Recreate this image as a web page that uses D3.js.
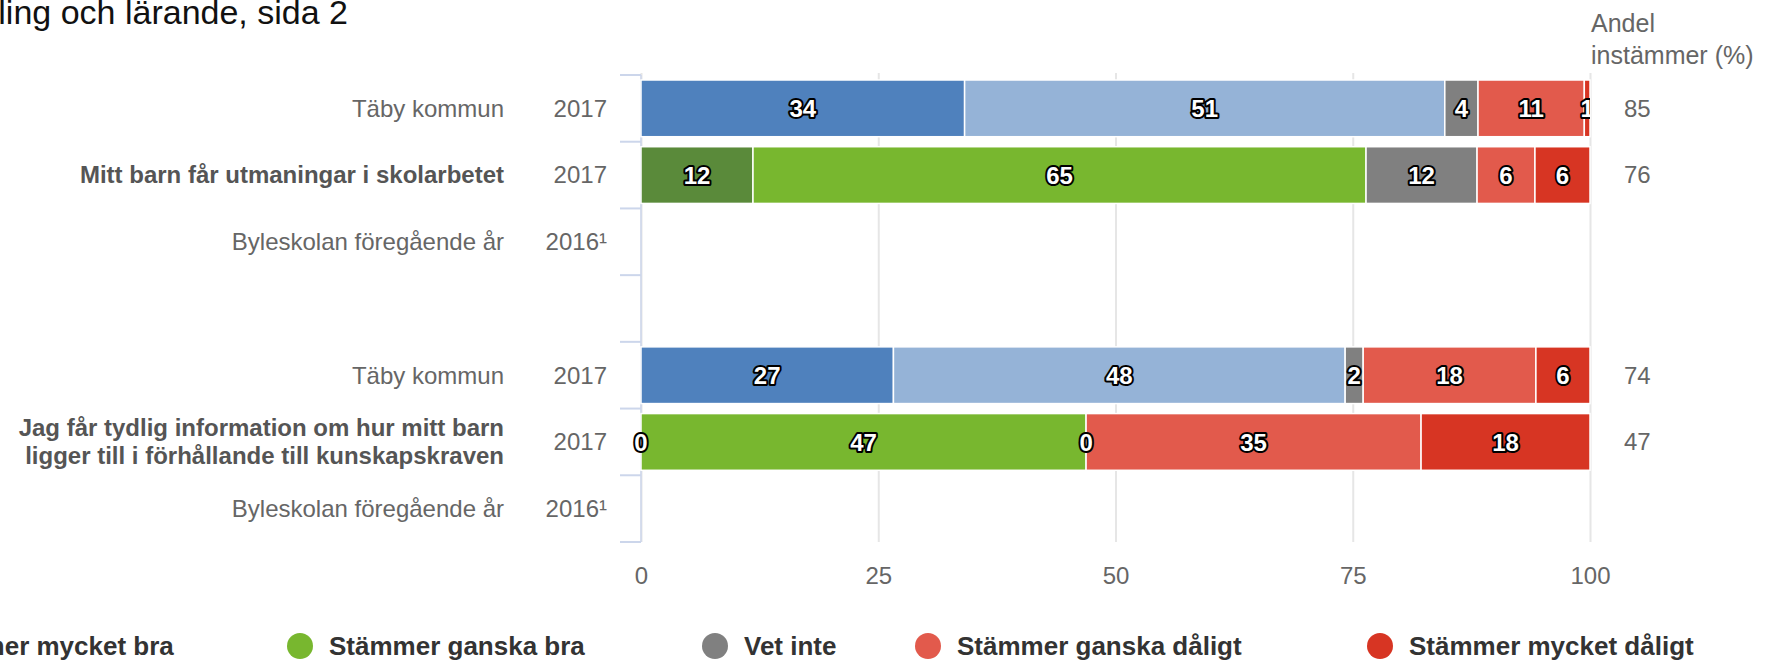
<!DOCTYPE html>
<html>
<head>
<meta charset="utf-8">
<script src="https://cdn.jsdelivr.net/npm/d3@7"></script>
<style>
  body { margin: 0; background: #fff; }
  svg { display: block; font-family: "Liberation Sans", Arial, Helvetica, sans-serif; }
</style>
</head>
<body>
<svg id="chart" width="1777" height="665"></svg>
<script>
// rows top to bottom, "" is the spacer between the two questions
const categories = [
  "Täby kommun",
  "Mitt barn får utmaningar i skolarbetet",
  "Byleskolan föregående år",
  "",
  "Täby kommun",
  "Jag får tydlig information om hur mitt barn ligger till i förhållande till kunskapskraven",
  "Byleskolan föregående år"
];
const years = ["2017", "2017", "2016¹", "", "2017", "2017", "2016¹"];
const questionRows = [1, 5];
const tabyRows = [0, 4];

const seriesNames = ["Stämmer mycket bra", "Stämmer ganska bra", "Vet inte", "Stämmer ganska dåligt", "Stämmer mycket dåligt"];

// percent per row (null = no data)
const mycketBra    = [34.1, 11.8, null, null, 26.6, 0,    null];
const ganskaBra    = [50.6, 64.6, null, null, 47.6, 46.9, null];
const vetInte      = [3.5,  11.7, null, null, 1.9,  0,    null];
const ganskaDaligt = [11.2, 6.1,  null, null, 18.2, 35.3, null];
const mycketDaligt = [0.6,  5.8,  null, null, 5.7,  17.8, null];

const andel = [85, 76, null, null, 74, 47, null];
const xTicks = [0, 25, 50, 75, 100];

const tabyColors  = ["#4f81bd", "#95b3d7", "#808080", "#e25a4c", "#d73523"];
const skolaColors = ["#5a8a3a", "#78b72f", "#808080", "#e25a4c", "#d73523"];

const svg = d3.select("#chart"),
  width = +svg.attr("width"),
  height = +svg.attr("height");

const plotTop = 75, plotBottom = 542;

const x = d3.scaleLinear().domain([0, 100]).range([641, 1590]);
const y = d3.scaleBand()
  .domain(d3.range(categories.length))
  .range([plotTop, plotBottom])
  .paddingInner(0.15)
  .paddingOuter(0.075);

const seriesValues = [mycketBra, ganskaBra, vetInte, ganskaDaligt, mycketDaligt];
const table = categories.map((c, i) => {
  const row = { row: i, hasData: mycketBra[i] != null };
  seriesValues.forEach((s, k) => { row[k] = s[i] == null ? 0 : s[i]; });
  return row;
});
const stacked = d3.stack().keys(d3.range(seriesNames.length))(table.filter(d => d.hasData));

// title (partly outside the window, as in the source)
svg.append("text")
  .attr("x", 348)
  .attr("y", 24)
  .attr("text-anchor", "end")
  .style("font-size", "34px")
  .style("fill", "#111")
  .text("Utveckling och lärande, sida 2");

// grid + x axis labels
const xAxis = svg.append("g")
  .attr("transform", `translate(0,${plotBottom})`)
  .call(d3.axisBottom(x).tickValues(xTicks).tickSize(-(plotBottom - plotTop + 2)).tickPadding(25));
xAxis.select(".domain").remove();
xAxis.selectAll(".tick line").attr("stroke", "#e6e6e6").attr("stroke-width", 2);
xAxis.selectAll(".tick text")
  .style("font-size", "24px")
  .style("font-family", "Liberation Sans, Arial, sans-serif")
  .attr("fill", "#666");

// y axis line + tick marks on band boundaries
const step = y.step();
const edges = d3.range(categories.length + 1).map(i => plotTop + i * step);
svg.append("line")
  .attr("x1", x(0)).attr("x2", x(0))
  .attr("y1", plotTop).attr("y2", plotBottom)
  .attr("stroke", "#ccd6eb").attr("stroke-width", 1.5);
svg.append("g").selectAll("line")
  .data(edges)
  .enter().append("line")
    .attr("x1", x(0) - 21).attr("x2", x(0))
    .attr("y1", d => d).attr("y2", d => d)
    .attr("stroke", "#ccd6eb").attr("stroke-width", 2);

// bars
const colorFor = (k, row) => (tabyRows.includes(row) ? tabyColors : skolaColors)[k];
svg.append("g").selectAll("g")
  .data(stacked)
  .enter().append("g")
  .selectAll("rect")
  .data(s => s.map(p => ({ k: s.key, p })))
  .enter().append("rect")
    .attr("x", d => x(d.p[0]))
    .attr("y", d => y(d.p.data.row))
    .attr("width", d => x(d.p[1]) - x(d.p[0]))
    .attr("height", y.bandwidth())
    .attr("fill", d => colorFor(d.k, d.p.data.row))
    .attr("stroke", "#fff")
    .attr("stroke-width", 1.5);

// data labels (clipped at the right plot edge)
svg.append("clipPath").attr("id", "labelClip")
  .append("rect").attr("x", 0).attr("y", 0).attr("width", x(100)).attr("height", height);
svg.append("g").attr("clip-path", "url(#labelClip)")
  .selectAll("text")
  .data(stacked.flatMap(s => s.map(p => ({ k: s.key, p }))))
  .enter().append("text")
    .attr("x", d => (x(d.p[0]) + x(d.p[1])) / 2)
    .attr("y", d => y(d.p.data.row) + y.bandwidth() / 2)
    .attr("dy", "0.36em")
    .attr("text-anchor", "middle")
    .style("font-size", "24px")
    .style("font-weight", "bold")
    .style("fill", "#fff")
    .style("stroke", "#000")
    .style("stroke-width", "4px")
    .style("stroke-linejoin", "round")
    .style("paint-order", "stroke")
    .text(d => d3.format(".0f")(d.p[1] - d.p[0]));

// category labels
const labelGroup = svg.append("g");
categories.forEach((c, i) => {
  if (!c) return;
  const cy = y(i) + y.bandwidth() / 2;
  const t = labelGroup.append("text")
    .attr("x", 504)
    .attr("y", cy)
    .attr("text-anchor", "end")
    .style("font-size", "24px")
    .style("font-weight", questionRows.includes(i) ? "bold" : "normal")
    .style("fill", questionRows.includes(i) ? "#555" : "#666");
  wrap(t, c, 500, cy);
});

function wrap(t, str, maxW, cy) {
  const words = str.split(" ");
  const lines = [];
  let line = [];
  const probe = t.append("tspan");
  words.forEach(w => {
    line.push(w);
    probe.text(line.join(" "));
    if (probe.node().getComputedTextLength() > maxW && line.length > 1) {
      line.pop();
      lines.push(line.join(" "));
      line = [w];
    }
  });
  lines.push(line.join(" "));
  probe.remove();
  const lh = 28;
  lines.forEach((l, j) => {
    t.append("tspan")
      .attr("x", 504)
      .attr("y", cy + (j - (lines.length - 1) / 2) * lh)
      .attr("dy", "0.35em")
      .text(l);
  });
}

// years
svg.append("g").selectAll("text")
  .data(years.map((yr, i) => ({ yr, i })).filter(d => d.yr))
  .enter().append("text")
    .attr("x", 607)
    .attr("y", d => y(d.i) + y.bandwidth() / 2)
    .attr("dy", "0.35em")
    .attr("text-anchor", "end")
    .style("font-size", "24px")
    .style("fill", "#666")
    .text(d => d.yr);

// andel instämmer column
svg.append("text")
  .attr("x", 1591)
  .style("font-size", "25px")
  .style("fill", "#666")
  .selectAll("tspan")
  .data(["Andel", "instämmer (%)"])
  .enter().append("tspan")
    .attr("x", 1591)
    .attr("y", (d, i) => 32 + i * 32)
    .text(d => d);
svg.append("g").selectAll("text")
  .data(andel.map((v, i) => ({ v, i })).filter(d => d.v != null))
  .enter().append("text")
    .attr("x", 1624)
    .attr("y", d => y(d.i) + y.bandwidth() / 2)
    .attr("dy", "0.35em")
    .style("font-size", "24px")
    .style("fill", "#666")
    .text(d => d.v);

// legend
const legendX = [-111, 300, 715, 928, 1380];
const legend = svg.append("g").selectAll("g")
  .data(seriesNames)
  .enter().append("g")
    .attr("transform", (d, i) => `translate(${legendX[i]},646)`);
legend.append("circle")
  .attr("r", 13)
  .attr("fill", (d, i) => skolaColors[i]);
legend.append("text")
  .attr("x", 29)
  .attr("dy", "0.35em")
  .style("font-size", "26px")
  .style("font-weight", "bold")
  .style("fill", "#333")
  .text(d => d);
</script>
</body>
</html>
